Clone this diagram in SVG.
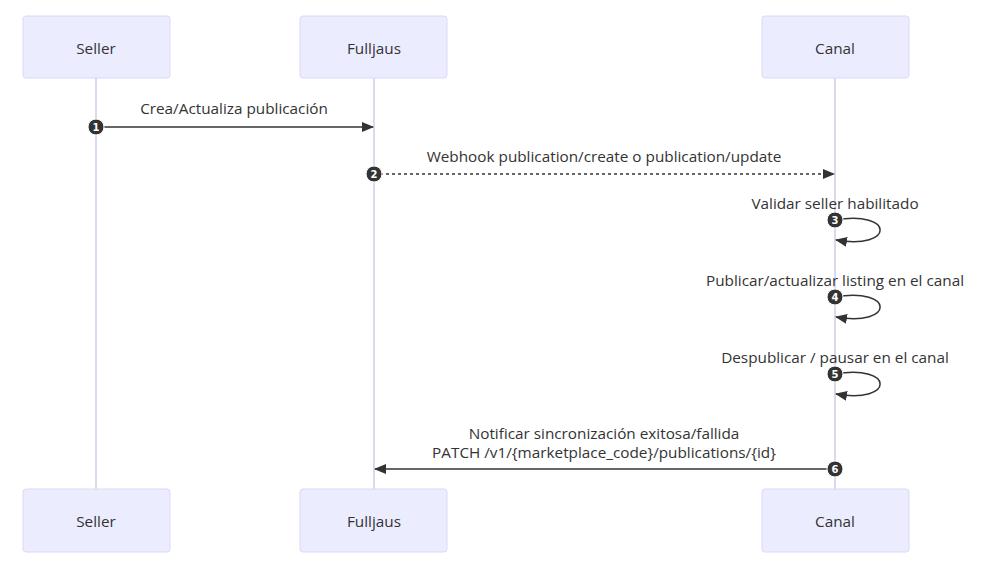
<svg xmlns="http://www.w3.org/2000/svg" width="990" height="574" viewBox="0 0 990 574">
<defs>
<style>
.box{fill:#ECECFF;stroke:#dcd8f8;stroke-width:1}
.life{stroke:#dcd8f0;stroke-width:2}
.t{font-family:"Open Sans","DejaVu Sans",sans-serif;font-size:15.3px;fill:#333;text-anchor:middle}
.msg{stroke:#333;stroke-width:1.5;fill:none}
.num{fill:#333;stroke:#fff;stroke-width:1}
.nt{font-family:"DejaVu Sans",sans-serif;font-size:10px;font-weight:bold;fill:#fff;text-anchor:middle}
</style>
<marker id="ah" viewBox="0 0 12 10" refX="11" refY="5" markerWidth="12" markerHeight="10" orient="auto" markerUnits="userSpaceOnUse"><path d="M0,0L12,5L0,10z" fill="#333"/></marker>
</defs>
<rect width="990" height="574" fill="#fff"/>
<g id="lifelines">
<line class="life" x1="96" y1="78" x2="96" y2="489"/>
<line class="life" x1="374" y1="78" x2="374" y2="489"/>
<line class="life" x1="835" y1="78" x2="835" y2="489"/>
</g>
<g id="seller"><rect class="box" x="23" y="16" width="147" height="62" rx="3"/><text class="t" x="96" y="54">Seller</text>
<rect class="box" x="23" y="489" width="147" height="63" rx="3"/><text class="t" x="96" y="527">Seller</text></g>
<g id="fulljaus"><rect class="box" x="300" y="16" width="147" height="62" rx="3"/><text class="t" x="374" y="54">Fulljaus</text>
<rect class="box" x="300" y="489" width="147" height="63" rx="3"/><text class="t" x="374" y="527">Fulljaus</text></g>
<g id="canal"><rect class="box" x="762" y="16" width="147" height="62" rx="3"/><text class="t" x="835" y="54">Canal</text>
<rect class="box" x="762" y="489" width="147" height="63" rx="3"/><text class="t" x="835" y="527">Canal</text></g>
<g id="connectors">
<line class="msg" x1="96" y1="127" x2="373" y2="127" marker-end="url(#ah)"/>
<line class="msg" x1="374" y1="174" x2="834" y2="174" stroke-dasharray="3,3" marker-end="url(#ah)"/>
<path class="msg" d="M835,220 C895,210 895,250 836,240" marker-end="url(#ah)"/>
<path class="msg" d="M835,297 C895,287 895,327 836,317" marker-end="url(#ah)"/>
<path class="msg" d="M835,374 C895,364 895,404 836,394" marker-end="url(#ah)"/>
<line class="msg" x1="835" y1="469" x2="375" y2="469" marker-end="url(#ah)"/>
</g>
<g id="labels">
<text class="t" x="234" y="114">Crea/Actualiza publicación</text>
<text class="t" x="604" y="162">Webhook publication/create o publication/update</text>
<text class="t" x="835" y="209">Validar seller habilitado</text>
<text class="t" x="835" y="286">Publicar/actualizar listing en el canal</text>
<text class="t" x="835" y="363">Despublicar / pausar en el canal</text>
<text class="t" x="604" y="439">Notificar sincronización exitosa/fallida</text>
<text class="t" x="604" y="458">PATCH /v1/{marketplace_code}/publications/{id}</text>
</g>
<g id="numbers">
<circle class="num" cx="96" cy="127" r="8"/><text class="nt" x="96" y="131">1</text>
<circle class="num" cx="374" cy="174" r="8"/><text class="nt" x="374" y="178">2</text>
<circle class="num" cx="835" cy="220" r="8"/><text class="nt" x="835" y="224">3</text>
<circle class="num" cx="835" cy="297" r="8"/><text class="nt" x="835" y="301">4</text>
<circle class="num" cx="835" cy="374" r="8"/><text class="nt" x="835" y="378">5</text>
<circle class="num" cx="835" cy="469" r="8"/><text class="nt" x="835" y="473">6</text>
</g>
</svg>
